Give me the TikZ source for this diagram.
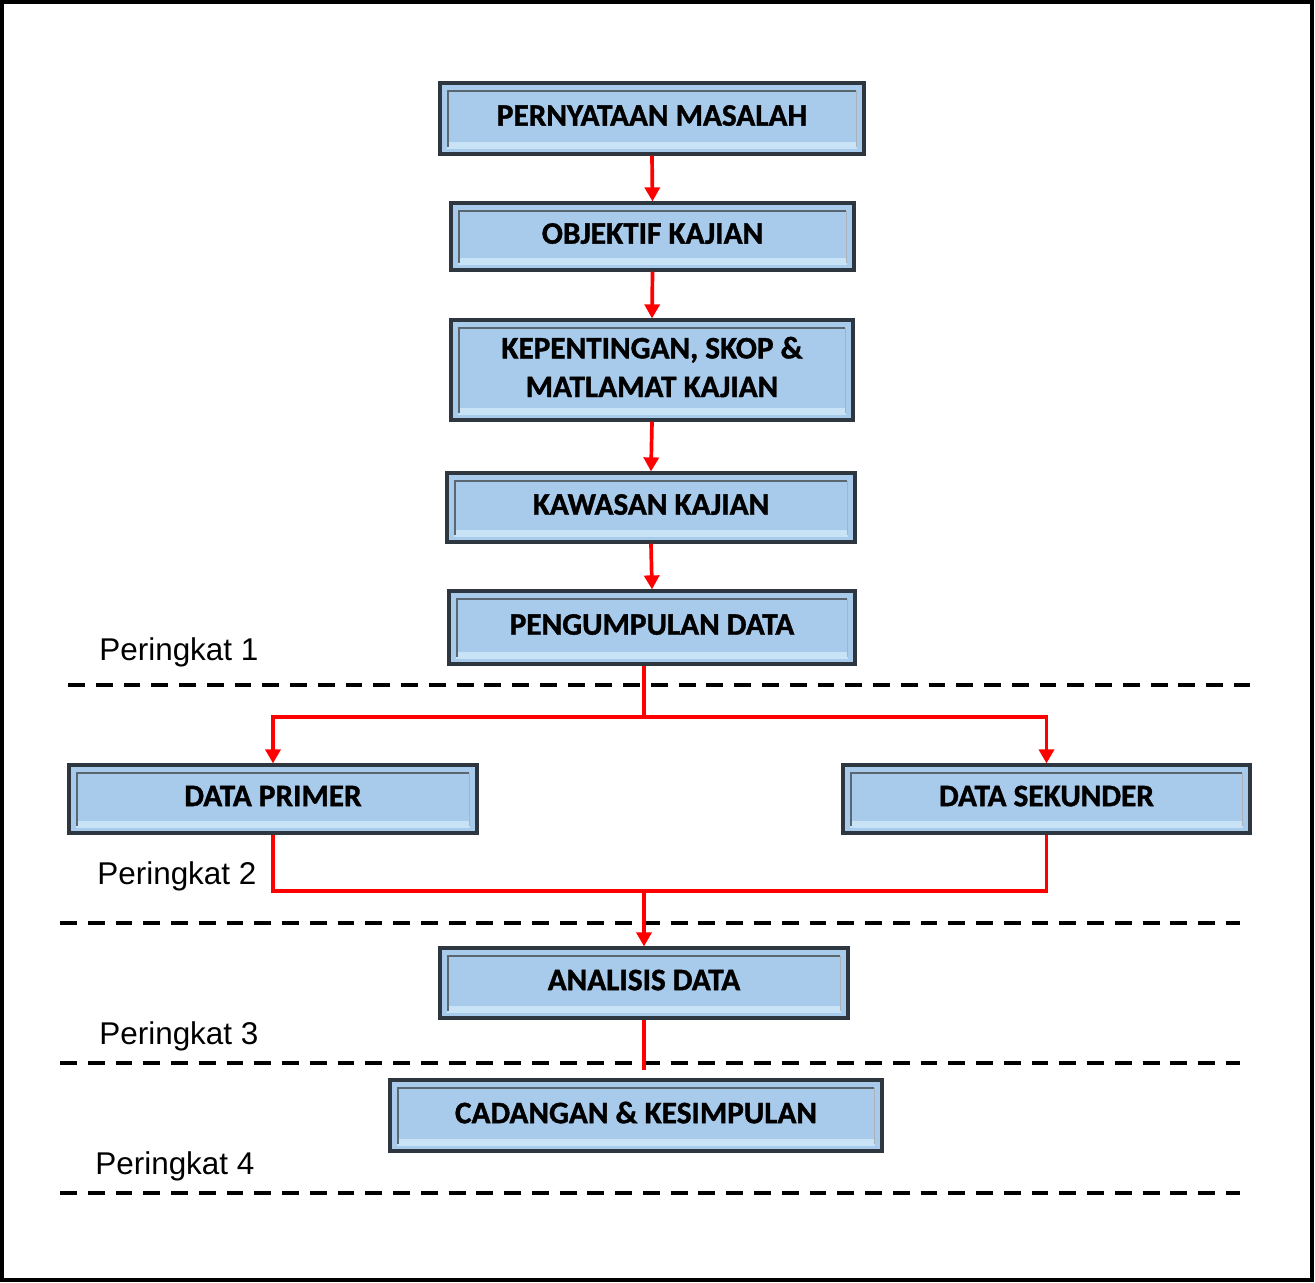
\documentclass[tikz,border=0pt]{standalone}
\usepackage{fontspec}
\setmainfont{Liberation Sans}
\newfontfamily\boxfont{Carlito}[BoldFeatures={FakeBold=1.2}]
\usetikzlibrary{arrows.meta,calc}
\definecolor{boxfill}{HTML}{A8CBEC}
\definecolor{boxlight}{HTML}{C8E2F6}
\definecolor{boxline}{HTML}{2E3740}
\definecolor{bevel}{HTML}{5A6670}
\tikzset{
  stepbox/.style={draw=boxline, line width=1.8pt, fill=boxfill, inner sep=0pt,
    font=\boxfont\bfseries\fontsize{17.8}{22}\selectfont, align=center, text depth=3.5pt,
    path picture={
      \fill[boxlight] ([xshift=4pt,yshift=3pt]path picture bounding box.south west) rectangle ([xshift=-4pt,yshift=7pt]path picture bounding box.south east);
      \draw[bevel, line width=0.9pt] ([xshift=4.5pt,yshift=4pt]path picture bounding box.south west) -- ([xshift=4.5pt,yshift=-4.5pt]path picture bounding box.north west) -- ([xshift=-4.5pt,yshift=-4.5pt]path picture bounding box.north east);
      \draw[bevel!50, line width=0.6pt] ([xshift=-4.5pt,yshift=-4.5pt]path picture bounding box.north east) -- ([xshift=-4.5pt,yshift=4pt]path picture bounding box.south east);
    }},
  redline/.style={draw=red, line width=2.1pt},
  arr/.style={redline, -{Triangle[width=8.5pt,length=8pt]}},
  level/.style={dash pattern=on 9.6pt off 6.2pt, line width=2.2pt, black},
  lbl/.style={anchor=base west, inner sep=0pt, font=\fontsize{17.9}{20}\selectfont}
}
\begin{document}
\begin{tikzpicture}[x=0.02cm, y=-0.02cm]
\useasboundingbox (0,0) rectangle (1315,1282);
\fill[white] (0,0) rectangle (1315,1282);
\draw[line width=2.2pt, black] (2,2) rectangle (1312,1280);

% boxes
\node[stepbox, minimum width=8.48cm, minimum height=1.42cm] (b1) at (652,118.5) {PERNYATAAN MASALAH};
\node[stepbox, minimum width=8.06cm, minimum height=1.34cm] (b2) at (652.5,236.5) {OBJEKTIF KAJIAN};
\node[stepbox, minimum width=8.04cm, minimum height=2.0cm] (b3) at (652,370) {KEPENTINGAN, SKOP \&\\MATLAMAT KAJIAN};
\node[stepbox, minimum width=8.16cm, minimum height=1.38cm] (b4) at (651,507.5) {KAWASAN KAJIAN};
\node[stepbox, minimum width=8.12cm, minimum height=1.46cm] (b5) at (652,627.5) {PENGUMPULAN DATA};
\node[stepbox, minimum width=8.16cm, minimum height=1.36cm] (b6) at (273,799) {DATA PRIMER};
\node[stepbox, minimum width=8.14cm, minimum height=1.36cm] (b7) at (1046.5,799) {DATA SEKUNDER};
\node[stepbox, minimum width=8.16cm, minimum height=1.40cm] (b8) at (644,983) {ANALISIS DATA};
\node[stepbox, minimum width=9.84cm, minimum height=1.42cm] (b9) at (636,1115.5) {CADANGAN \& KESIMPULAN};

% level lines
\draw[level] (68,685) -- (1250,685);
\draw[level] (60,923) -- (1240,923);
\draw[level] (60,1063) -- (1240,1063);
\draw[level] (60,1193) -- (1240,1193);

% level labels
\node[lbl] (p1) at (99,660) {Peringkat 1};
\node[lbl] (p2) at (97,884) {Peringkat 2};
\node[lbl] (p3) at (99,1044) {Peringkat 3};
\node[lbl] (p4) at (95,1174) {Peringkat 4};

% connectors
\draw[arr] (b1.south) -- (b2.north);
\draw[arr] (b2.south) -- (b3.north);
\draw[arr] (b3.south) -- (b4.north);
\draw[arr] (b4.south) -- (b5.north);

\coordinate (j1) at (644,717);
\coordinate (j2) at (644,891);
\draw[redline] (b5.south -| j1) -- (j1);
\draw[arr] (j1) -| (b6.north);
\draw[arr] (j1) -| (b7.north);
\draw[redline] (b6.south) |- (j2) -| (b7.south);
\draw[arr] (j2) -- (b8.north -| j2);
\draw[redline, shorten >=5pt] (b8.south) -- (b8.south |- b9.north);
\end{tikzpicture}
\end{document}
